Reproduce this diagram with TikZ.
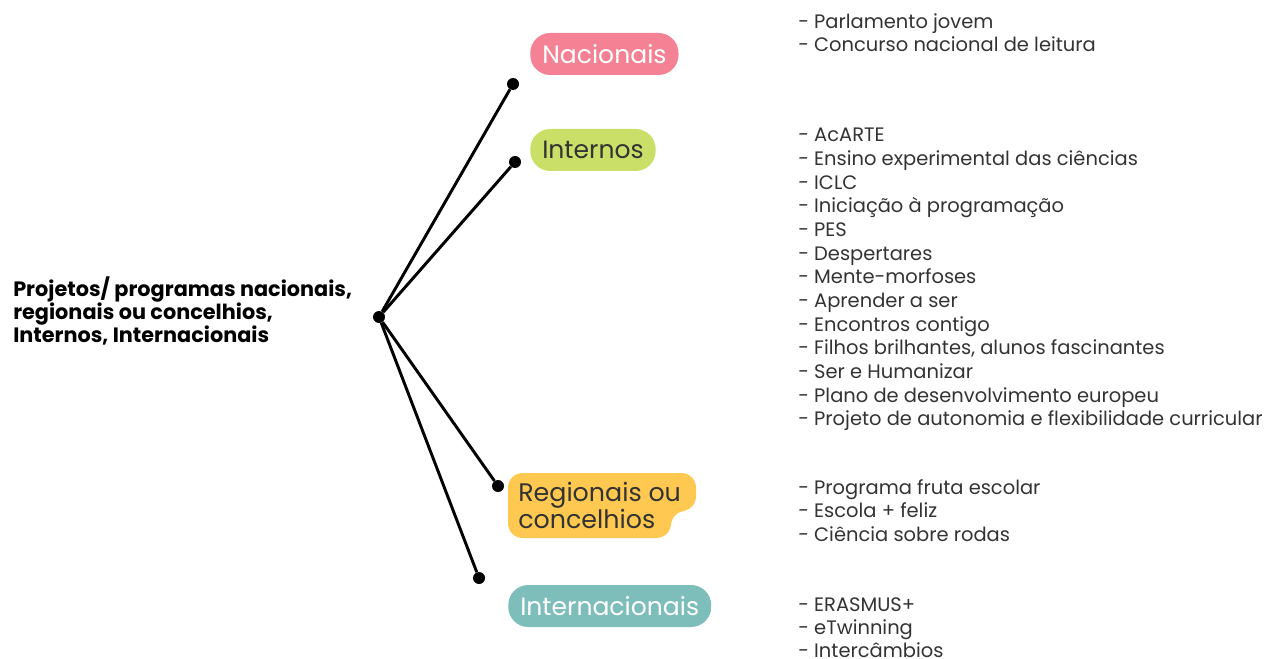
\documentclass[tikz,border=0pt]{standalone}
\usepackage{fontspec}
\setmainfont{Poppins}
\usetikzlibrary{positioning}

\definecolor{pinkc}{HTML}{F48294}
\definecolor{limec}{HTML}{C9DF68}
\definecolor{goldc}{HTML}{FFC850}
\definecolor{tealc}{HTML}{7DBEBA}
\definecolor{inkc}{HTML}{333333}

\begin{document}
\begin{tikzpicture}[
    x=0.75pt, y=-0.75pt,
    dot/.style={circle, fill=black, inner sep=0pt, minimum size=9pt},
    branch/.style={line width=2.2pt, black},
    pill/.style={rounded corners=15pt, minimum height=31.5pt, inner xsep=9pt, font=\fontsize{18.8}{20}\selectfont},
    items/.style={anchor=north west, inner sep=0pt, align=left, text=inkc, font=\fontsize{14.6}{17.75}\selectfont}
]
    \useasboundingbox (0,0) rectangle (1276,659);

    \node[anchor=west, inner sep=0pt, align=left, font=\fontsize{15.6}{17.25}\selectfont\bfseries] (root) at (13,311)
        {Projetos/ programas nacionais,\\regionais ou concelhios,\\Internos, Internacionais};

    \node[dot] (hub) at (379,317) {};
    \node[dot] (d1) at (513,84) {};
    \node[dot] (d2) at (515,162) {};
    \node[dot] (d3) at (498,486) {};
    \node[dot] (d4) at (479,578) {};

    \draw[branch] (hub) -- (d1);
    \draw[branch] (hub) -- (d2);
    \draw[branch] (hub) -- (d3);
    \draw[branch] (hub) -- (d4);

    % categories
    \node[pill, fill=pinkc, text=white, anchor=west] (nac) at (530,54) {Nacionais};
    \node[pill, fill=limec, text=inkc, anchor=west] (int) at (530,150) {Internos};
    \fill[goldc, rounded corners=11pt] (508,473) -- (696,473) -- (696,511) -- (671,511) -- (671,538) -- (508,538) -- cycle;
    \node[anchor=west, inner sep=0pt, align=left, text=inkc, font=\fontsize{19}{17.25}\selectfont] (reg) at (518,505.5) {Regionais ou\\concelhios};
    \node[pill, fill=tealc, text=white, anchor=west] (intl) at (508,606) {Internacionais};

    % lists
    \node[items] (lnac) at (798,13) {- Parlamento jovem\\- Concurso nacional de leitura};
    \node[items] (lint) at (798,128) {- AcARTE\\- Ensino experimental das ciências\\- ICLC\\- Iniciação à programação\\- PES\\- Despertares\\- Mente-morfoses\\- Aprender a ser\\- Encontros contigo\\- Filhos brilhantes, alunos fascinantes\\- Ser e Humanizar\\- Plano de desenvolvimento europeu\\- Projeto de autonomia e flexibilidade curricular};
    \node[items] (lreg) at (798,479) {- Programa fruta escolar\\- Escola + feliz\\- Ciência sobre rodas};
    \node[items, font=\fontsize{14.6}{17.25}\selectfont] (lintl) at (798,597) {- ERASMUS+\\- eTwinning\\- Intercâmbios};
\end{tikzpicture}
\end{document}
